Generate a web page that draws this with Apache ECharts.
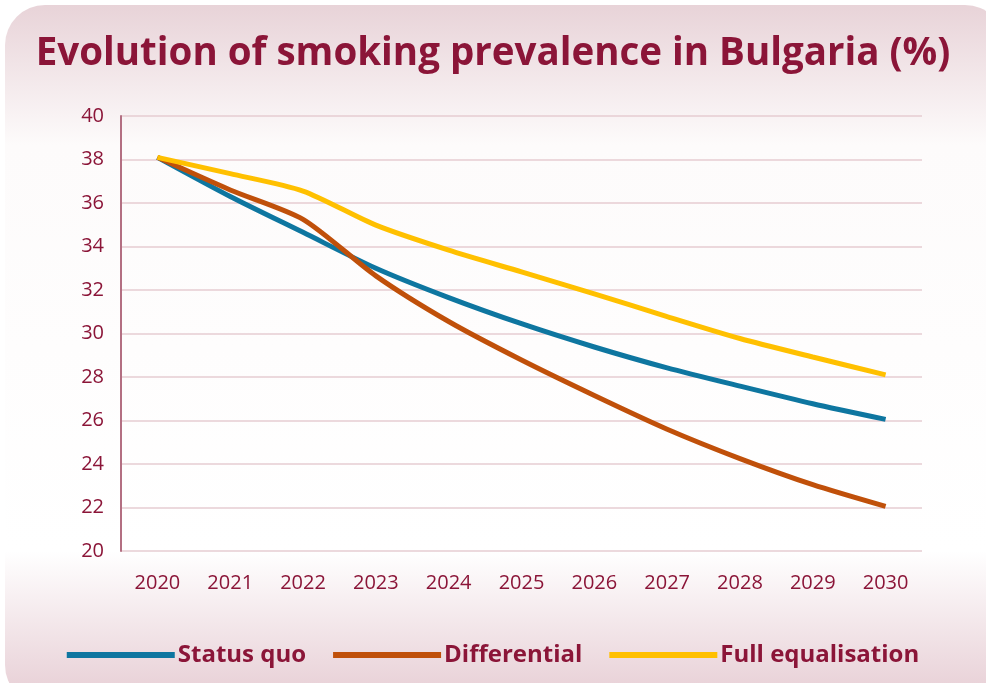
<!DOCTYPE html>
<html>
<head>
<meta charset="utf-8">
<script src="https://cdn.jsdelivr.net/npm/echarts@6/dist/echarts.min.js"></script>
<style>
  html, body { margin: 0; padding: 0; background: #ffffff; }
  #chart { width: 986px; height: 683px; }
</style>
</head>
<body>
<div id="chart"></div>
<script>
// Smoking prevalence projections (%), 2020-2030
const years = ['2020', '2021', '2022', '2023', '2024', '2025', '2026', '2027', '2028', '2029', '2030'];
const statusQuo = [38.1, 36.3, 34.65, 33.0, 31.65, 30.45, 29.38, 28.42, 27.58, 26.77, 26.05];
const differential = [38.1, 36.6, 35.25, 32.65, 30.55, 28.78, 27.15, 25.6, 24.25, 23.05, 22.05];
const fullEqualisation = [38.1, 37.35, 36.55, 34.98, 33.83, 32.83, 31.82, 30.78, 29.77, 28.92, 28.1];
const yTicks = { min: 20, max: 40, step: 2 };

const maroon = '#8B1538';
const chart = echarts.init(document.getElementById('chart'));

const mkSeries = (name, data, color) => ({
  name, type: 'line', data, smooth: 0.25, symbol: 'none',
  lineStyle: { color, width: 5 }, itemStyle: { color }
});

chart.setOption({
  animation: false,
  graphic: [{
    type: 'rect', z: -10, silent: true,
    shape: { x: 5, y: 5, width: 1000, height: 700, r: 40 },
    style: {
      fill: {
        type: 'linear', x: 0, y: 0, x2: 0, y2: 1,
        colorStops: [
          { offset: 0, color: '#e8d3d8' },
          { offset: 0.2, color: '#fdfbfb' },
          { offset: 0.78, color: '#ffffff' },
          { offset: 1, color: '#e6ccd3' }
        ]
      }
    }
  }],
  title: {
    text: 'Evolution of smoking prevalence in Bulgaria (%)',
    left: 'center', top: 30,
    textStyle: { fontFamily: 'Open Sans', fontWeight: 'bold', fontSize: 38.5, color: maroon }
  },
  legend: {
    bottom: 11, left: 'center', itemGap: 27, itemWidth: 108, itemHeight: 6,
    icon: 'rect',
    textStyle: { fontFamily: 'Open Sans', fontWeight: 'bold', fontSize: 24, color: maroon, padding: [0, 0, 0, -2] }
  },
  grid: { left: 121, right: 64, top: 116, bottom: 132 },
  xAxis: {
    type: 'category', data: years, boundaryGap: true,
    axisLine: { show: false }, axisTick: { show: false },
    axisLabel: { color: maroon, fontFamily: 'Open Sans', fontSize: 20, margin: 22 }
  },
  yAxis: {
    type: 'value', min: yTicks.min, max: yTicks.max, interval: yTicks.step,
    axisLine: { show: true, lineStyle: { color: '#b36f82', width: 2 } },
    axisTick: { show: false },
    axisLabel: { color: maroon, fontFamily: 'Open Sans', fontSize: 20, margin: 17 },
    splitLine: { lineStyle: { color: '#e6cdd2', width: 1.5 } }
  },
  series: [
    mkSeries('Status quo', statusQuo, '#0e76a0'),
    mkSeries('Differential', differential, '#c0500a'),
    mkSeries('Full equalisation', fullEqualisation, '#ffc000')
  ]
});
</script>
</body>
</html>
